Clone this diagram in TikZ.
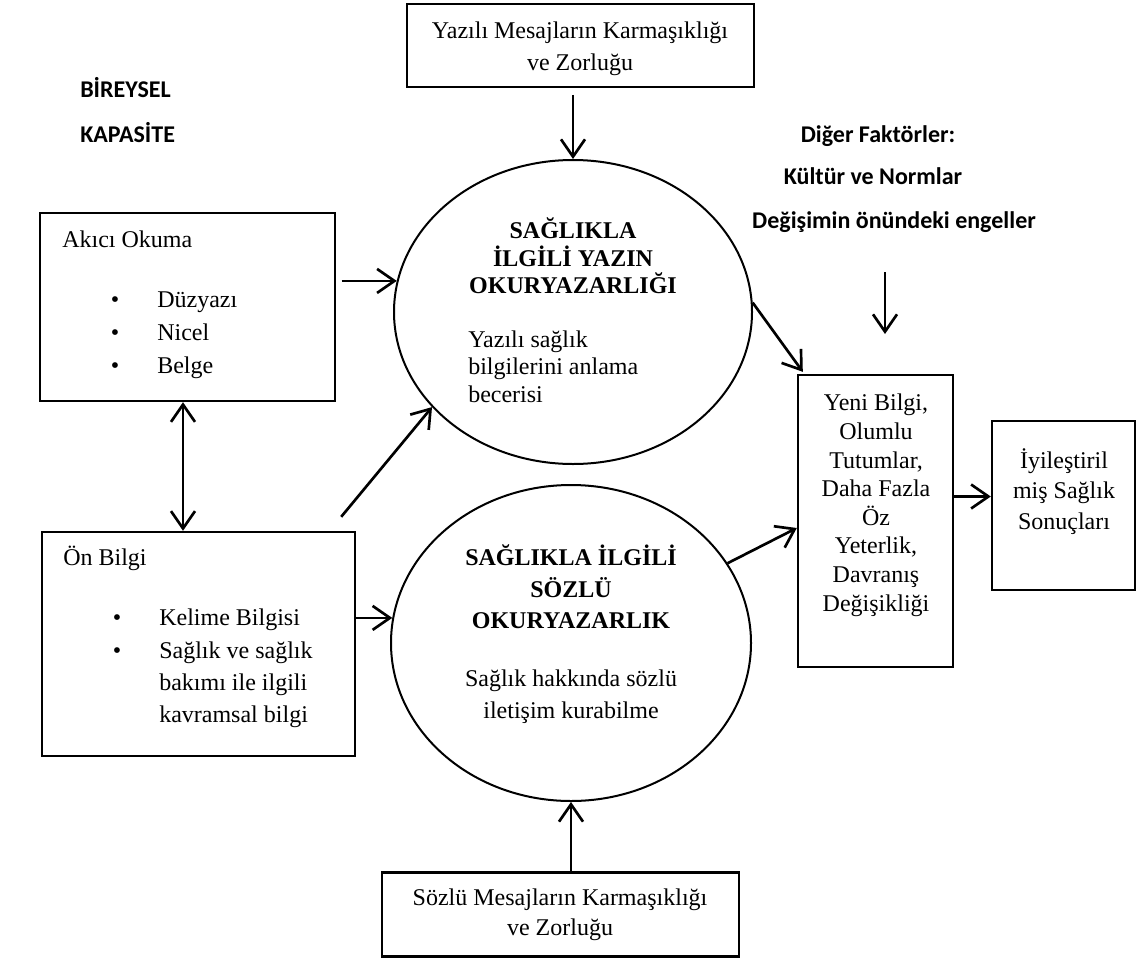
\documentclass[tikz,border=0pt]{standalone}
\usepackage{fontspec}
\setmainfont{Liberation Serif}
\newfontfamily\carlito{Carlito}
\usetikzlibrary{arrows.meta,shapes.geometric}
\newcommand{\fsz}{\fontsize{18}{22}\selectfont}
\begin{document}
\begin{tikzpicture}[x=0.75pt,y=-0.75pt,
  box/.style={draw,line width=1.8pt,rectangle,inner sep=0pt},
  oval/.style={draw,line width=1.5pt,ellipse,inner sep=0pt},
  tip/.style={},
  arr/.style={line width=2pt,-{Straight Barb[length=13pt,width=18pt,line width=2pt]}},
  darr/.style={line width=2pt,{Straight Barb[length=13pt,width=18pt,line width=2pt]}-{Straight Barb[length=13pt,width=18pt,line width=2pt]}},
  ct/.style={font=\fsz,inner sep=0pt,anchor=base},
  lt/.style={font=\fsz,inner sep=0pt,anchor=base west},
  bct/.style={font=\fsz\bfseries,inner sep=0pt,anchor=base},
  sans/.style={font=\carlito\fsz\bfseries,inner sep=0pt},
]
\useasboundingbox (0,0) rectangle (1138,960);

% boxes
\node[box,minimum width=260.25pt,minimum height=62.25pt] (topbox) at (580.5,45.5) {};
\node[box,minimum width=221.25pt,minimum height=141pt] (akici) at (187.5,307) {};
\node[box,minimum width=234.75pt,minimum height=168pt] (on) at (198.5,644) {};
\node[box,minimum width=116.25pt,minimum height=219pt] (yeni) at (875.5,521) {};
\node[box,minimum width=107.25pt,minimum height=126.75pt] (final) at (1063.5,505.5) {};
\node[box,minimum width=267.75pt,minimum height=63pt] (botbox) at (560.5,914.5) {};

% ellipses
\node[oval,minimum width=268.5pt,minimum height=228pt] (ellT) at (573,312) {};
\node[oval,minimum width=270pt,minimum height=237pt] (ellB) at (571,643) {};

% side labels
\node[sans,anchor=base west] (bir) at (80,97) {BİREYSEL};
\node[sans,anchor=base west] (kap) at (80,142) {KAPASİTE};
\node[sans,anchor=base] (dig) at (878,142) {Diğer Faktörler:};
\node[sans,anchor=base] (kul) at (873,184) {Kültür ve Normlar};
\node[sans,anchor=base] (deg) at (894,228) {Değişimin önündeki engeller};

% top box text
\node[ct] (tb1) at (580,38) {Yazılı Mesajların Karmaşıklığı};
\node[ct] (tb2) at (580,70) {ve Zorluğu};

% bottom box text
\node[ct] (bb1) at (560,905) {Sözlü Mesajların Karmaşıklığı};
\node[ct] (bb2) at (560,935) {ve Zorluğu};

% akici okuma
\node[lt] (ak0) at (62,247) {Akıcı Okuma};
\foreach \t/\y [count=\i] in {Düzyazı/307,Nicel/340,Belge/373}{
  \node[ct] (akb\i) at (115,\y) {•};
  \node[lt] (ak\i) at (157,\y) {\t};
}

% on bilgi
\node[lt] (on0) at (63,565) {Ön Bilgi};
\node[ct] (onb1) at (117,625) {•};
\node[ct] (onb2) at (117,658) {•};
\foreach \t/\y [count=\i] in {Kelime Bilgisi/625,Sağlık ve sağlık/658,bakımı ile ilgili/690,kavramsal bilgi/722}{
  \node[lt] (on\i) at (159,\y) {\t};
}

% top ellipse text
\foreach \t/\y [count=\i] in {SAĞLIKLA/238,İLGİLİ YAZIN/266,OKURYAZARLIĞI/293}{
  \node[bct] (et\i) at (573,\y) {\t};
}
\foreach \t/\y [count=\i] in {Yazılı sağlık/347,bilgilerini anlama/374,becerisi/402}{
  \node[lt] (ets\i) at (468,\y) {\t};
}

% bottom ellipse text
\foreach \t/\y [count=\i] in {SAĞLIKLA İLGİLİ/565,SÖZLÜ/597,OKURYAZARLIK/628}{
  \node[bct] (eb\i) at (571,\y) {\t};
}
\node[ct] (ebs1) at (571,686) {Sağlık hakkında sözlü};
\node[ct] (ebs2) at (571,718) {iletişim kurabilme};

% yeni box text
\foreach \t/\y [count=\i] in {{Yeni Bilgi,}/410,Olumlu/439,{Tutumlar,}/468,Daha Fazla/496,Öz/525,{Yeterlik,}/553,Davranış/582,Değişikliği/611}{
  \node[ct] (yb\i) at (876,\y) {\t};
}

% final box text
\node[ct] (fb1) at (1064,468) {İyileştiril};
\node[ct] (fb2) at (1064,498) {miş Sağlık};
\node[ct] (fb3) at (1064,529) {Sonuçları};

% connectors
\draw[arr,shorten <=5pt] (ellT.north |- topbox.south) -- (ellT.north);
\draw[arr,shorten <=4pt] (akici.east |- ellT.170) -- (ellT.170);
\draw[arr] (on.east |- ellB.172) -- (ellB.172);
\draw[arr] ([shift={(-15,-14)}]on.north east) -- (ellT.214);
\draw[arr] (ellT.3) -- ([shift={(6,-2)}]yeni.north west);
\draw[arr] (ellB.27) -- ([shift={(0,7)}]yeni.west);
\draw[arr] ([shift={(0,-9)}]final.west -| yeni.east) -- ([shift={(0,-9)}]final.west);
\draw[arr] (ellB.south |- botbox.north) -- (ellB.south);
\draw[darr] ([shift={(-4.5,0)}]akici.south) -- ([shift={(-4.5,0)}]akici.south |- on.north);
\coordinate (fa) at (885,272);
\coordinate (fb) at (885,334);
\draw[arr] (fa) -- (fb);
\end{tikzpicture}
\end{document}
